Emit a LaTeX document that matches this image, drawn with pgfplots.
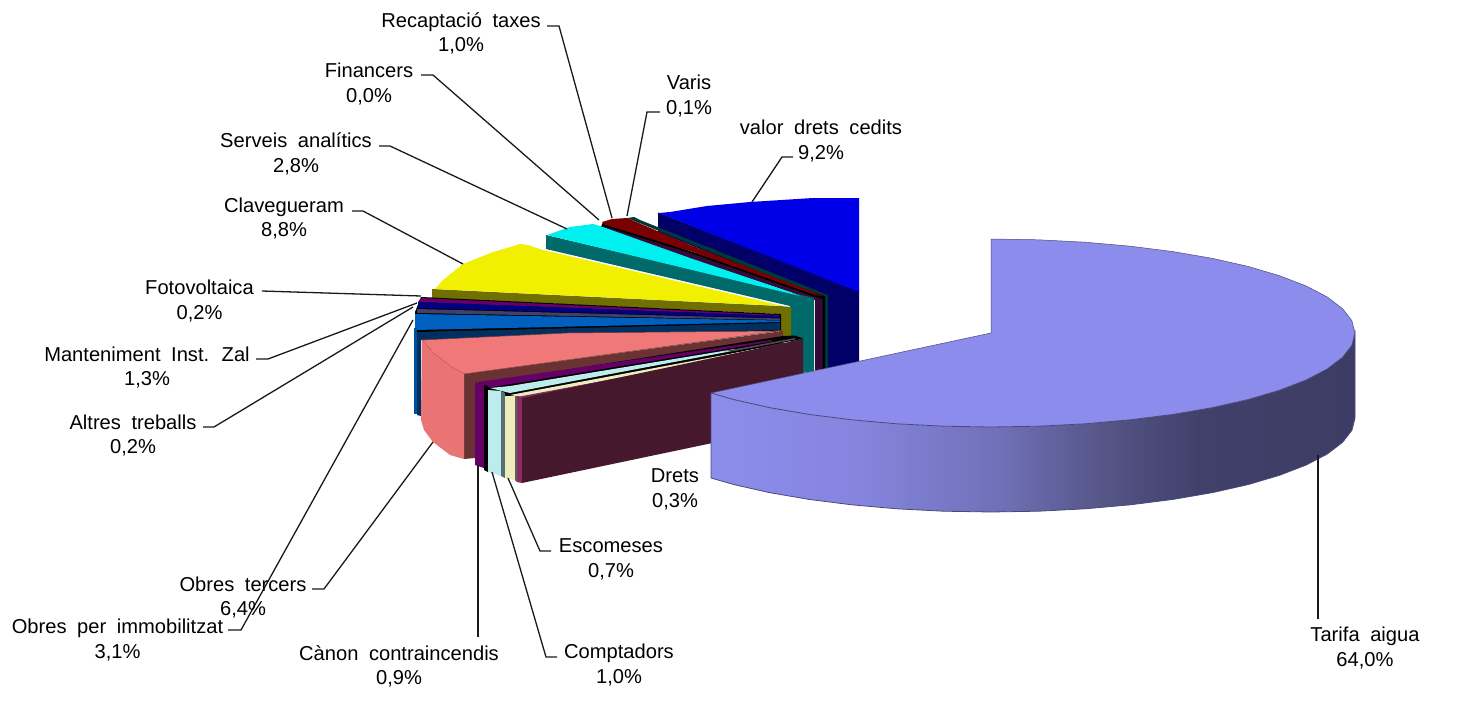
\documentclass[border=0pt]{standalone}
\usepackage{pgfplots}
\pgfplotsset{compat=1.18}
\usepackage{fontspec}
\setmainfont{Liberation Sans}
\definecolor{tarTop}{HTML}{8C8CEC}
\definecolor{tarEdge}{HTML}{4A4A7A}
\definecolor{bluT}{HTML}{0000E8}
\definecolor{bluS}{HTML}{000068}
\definecolor{grnS}{HTML}{003838}
\definecolor{redT}{HTML}{780000}
\definecolor{plumS}{HTML}{340A38}
\definecolor{cyaT}{HTML}{00F0F0}
\definecolor{cyaS}{HTML}{006A6A}
\definecolor{yelT}{HTML}{F0F000}
\definecolor{yelS}{HTML}{707000}
\definecolor{purp}{HTML}{660066}
\definecolor{nav}{HTML}{000080}
\definecolor{slat}{HTML}{40406A}
\definecolor{mblu}{HTML}{0060C0}
\definecolor{mbl2}{HTML}{0050A0}
\definecolor{mdrk}{HTML}{003060}
\definecolor{pnkT}{HTML}{F07878}
\definecolor{pnkS}{HTML}{E87474}
\definecolor{pnkE}{HTML}{703838}
\definecolor{brn}{HTML}{6A3232}
\definecolor{lcy}{HTML}{BCECEC}
\definecolor{gry}{HTML}{5A7070}
\definecolor{crm}{HTML}{ECECBC}
\definecolor{gr2}{HTML}{606058}
\definecolor{mag}{HTML}{8A2A60}
\definecolor{drk}{HTML}{46182E}
\definecolor{s0}{HTML}{8C8CEC}
\definecolor{s1}{HTML}{8686E0}
\definecolor{s2}{HTML}{7070B8}
\definecolor{s3}{HTML}{565688}
\definecolor{s4}{HTML}{40406A}
\definecolor{s5}{HTML}{3C3C64}
\pgfdeclarehorizontalshading{tarifa}{100bp}{color(0bp)=(s0);color(25bp)=(s0);color(35.8bp)=(s1);color(47.4bp)=(s2);color(55.2bp)=(s3);color(63bp)=(s4);color(75bp)=(s5);color(100bp)=(s5)}
\tikzset{lab/.style={align=center,anchor=center,inner sep=0pt,font=\fontsize{20.2}{24.6}\selectfont},
 lead/.style={black!90,line width=1.3pt}}
\newcommand{\ws}{\hspace{0.25em}}
\begin{document}
\begin{tikzpicture}
\path[use as bounding box] (0,0) rectangle (1461bp,716bp);
\begin{axis}[hide axis,scale only axis,width=1461bp,height=716bp,xmin=0,xmax=1461,ymin=0,ymax=716,y dir=reverse,clip=false,no markers]
% valor drets cedits
\addplot[fill=bluS,draw=none] coordinates {(658,212.5)(859,291)(859,362)(827,370)(827,300)(658,232)} -- cycle;
\addplot[fill=bluT,draw=none] coordinates {(659,213)(670,212)(707,206)(750,202)(813,198)(859,198)(859,292)} -- cycle;
% varis
\addplot[fill=grnS,draw=none] coordinates {(627,218)(634,217)(640,220)(828,295)(828,368)(824,369)(824,298)} -- cycle;
% recaptacio
\addplot[fill=black,draw=none] coordinates {(603,222)(825,296)(825,369)(815,370)(815,300)(600,229)} -- cycle;
\addplot[fill=plumS,draw=none] coordinates {(606,227)(690,253)(815,297)(822.5,299)(822.5,368.5)(815,370)(815,300)(690,258)(600,227)} -- cycle;
\addplot[fill=redT,draw=none] coordinates {(602,222)(612,219)(627,218)(690,245)(823,296)(815,295)(690,251)(606,225)} -- cycle;
% serveis analitics
\addplot[fill=cyaS,draw=none] coordinates {(546,235)(814,298)(814,371)(790,375)(790,306)(546,249)} -- cycle;
\addplot[fill=cyaT,draw=none] coordinates {(547,235)(570,227)(593,224)(600,226)(690,258)(787,291)(800,296)} -- cycle;
% clavegueram
\addplot[fill=yelS,draw=none] coordinates {(432,289)(780,306)(791,307)(791,340)(779,340)(779,314)(432,298)} -- cycle;
\addplot[fill=yelT,draw=none] coordinates {(435,289)(443,280)(463,264)(478,258)(493,252)(507,248)(520,244)(528,245)(543,250)(783,306)} -- cycle;
% fotovoltaica, altres, manteniment
\addplot[fill=black,draw=none] coordinates {(421,297)(781,314)(781,331)(420,340)(415,330)(415,312)} -- cycle;
\addplot[fill=purp,draw=none] coordinates {(421,298)(780,315)(780,316)(418,302)} -- cycle;
\addplot[fill=nav,draw=none] coordinates {(418,302)(780,316)(780,318)(418,308)} -- cycle;
\addplot[fill=slat,draw=none] coordinates {(417,309)(780,318.5)(780,320)(417,313)} -- cycle;
\addplot[fill=mblu,draw=none] coordinates {(415,314)(780,320.5)(780,322)(415,330)} -- cycle;
\addplot[fill=mdrk,draw=none] coordinates {(417,332)(780,323)(780,330)(420,340)} -- cycle;
\addplot[fill=mbl2,draw=none] coordinates {(414,328)(417,328)(417,414)(414,414)} -- cycle;
\addplot[fill=mdrk,draw=none] coordinates {(417,332)(421,332)(421,416)(417,415)} -- cycle;
% obres tercers
\addplot[fill=brn,draw=none] coordinates {(464,374)(783,331)(783,345)(475,385)(475,458)(464,459)} -- cycle;
\addplot[fill=pnkT,draw=pnkE,line width=0.5pt] coordinates {(422,340)(567,333)(773,331)(783,330.5)(464,374)(450,366)(433,353)} -- cycle;
\addplot[fill=pnkS,draw=none] coordinates {(422,340)(433,353)(450,366)(464,374)(464,459)(450,455)(433,442)(424,430)(421,420)} -- cycle;
% canon, comptadors, escomeses, drets
\addplot[fill=black,draw=none] coordinates {(475,384)(783,336)(795,335.5)(803,338.5)(522,398)(522,420)(475,420)} -- cycle;
\addplot[fill=purp,draw=none] coordinates {(478,382)(772,340)(772,341.5)(486,388)} -- cycle;
\addplot[fill=lcy,draw=none] coordinates {(490,388)(510,386)(735,349)(735,350.5)(510,393)} -- cycle;
\addplot[fill=gray!60!black,draw=none] coordinates {(725,351)(795,338)(795,339.5)(735,351)} -- cycle;
\addplot[fill=crm,draw=none] coordinates {(510,395)(740,352)(740,353.5)(522,397)} -- cycle;
\addplot[fill=purp,draw=none] coordinates {(475,382)(484,385)(484,468)(475,465)} -- cycle;
\addplot[fill=black,draw=none] coordinates {(484,385)(488,386)(488,472)(484,470)} -- cycle;
\addplot[fill=lcy,draw=none] coordinates {(488,390)(501,391)(501,476)(488,472)} -- cycle;
\addplot[fill=gry,draw=none] coordinates {(501,391)(505,393)(505,478)(501,476)} -- cycle;
\addplot[fill=crm,draw=none] coordinates {(505,396)(515,396)(515,480)(505,478)} -- cycle;
\addplot[fill=gr2,draw=none] coordinates {(515,396)(517,396)(517,482)(515,480)} -- cycle;
\addplot[fill=mag,draw=none] coordinates {(517,397)(667,369)(667,370)(522,398)(522,483)(517,482)} -- cycle;
\addplot[fill=drk,draw=none] coordinates {(522,398)(803,339)(803,424)(522,483)} -- cycle;
% tarifa aigua
\addplot[shading=tarifa,draw=none] coordinates {(711,393)(733.6,399.5)(769.4,407.6)(809,414.4)(851.7,419.8)(896.8,423.8)(943.5,426.2)(991,427)(1038.5,426.2)(1085.2,423.8)(1130.3,419.8)(1173,414.4)(1212.6,407.6)(1248.4,399.5)(1279.8,390.2)(1306.2,380)(1327.3,369)(1342.6,357.3)(1351.9,345.3)(1355,333)(1355,418)(1351.9,430.3)(1342.6,442.3)(1327.3,454)(1306.2,465)(1279.8,475.2)(1248.4,484.5)(1212.6,492.6)(1173,499.4)(1130.3,504.8)(1085.2,508.8)(1038.5,511.2)(991,512)(943.5,511.2)(896.8,508.8)(851.7,504.8)(809,499.4)(769.4,492.6)(733.6,484.5)(711,478)} -- cycle;
\addplot[fill=tarTop,draw=none] coordinates {(991,239)(1038.5,239.8)(1085.2,242.2)(1130.3,246.2)(1173,251.6)(1212.6,258.4)(1248.4,266.5)(1279.8,275.8)(1306.2,286)(1327.3,297)(1342.6,308.7)(1351.9,320.7)(1355,333)(1351.9,345.3)(1342.6,357.3)(1327.3,369)(1306.2,380)(1279.8,390.2)(1248.4,399.5)(1212.6,407.6)(1173,414.4)(1130.3,419.8)(1085.2,423.8)(1038.5,426.2)(991,427)(943.5,426.2)(896.8,423.8)(851.7,419.8)(809,414.4)(769.4,407.6)(733.6,399.5)(711,393)(991,333)} -- cycle;
\addplot[draw=tarEdge,line width=0.8pt] coordinates {(711,478)(711,393)(733.6,399.5)(769.4,407.6)(809,414.4)(851.7,419.8)(896.8,423.8)(943.5,426.2)(991,427)(1038.5,426.2)(1085.2,423.8)(1130.3,419.8)(1173,414.4)(1212.6,407.6)(1248.4,399.5)(1279.8,390.2)(1306.2,380)(1327.3,369)(1342.6,357.3)(1351.9,345.3)(1355,333)(1355,418)(1351.9,430.3)(1342.6,442.3)(1327.3,454)(1306.2,465)(1279.8,475.2)(1248.4,484.5)(1212.6,492.6)(1173,499.4)(1130.3,504.8)(1085.2,508.8)(1038.5,511.2)(991,512)(943.5,511.2)(896.8,508.8)(851.7,504.8)(809,499.4)(769.4,492.6)(733.6,484.5)(711,478)};
\addplot[draw=tarEdge,line width=0.5pt] coordinates {(1355,333)(1351.9,320.7)(1342.6,308.7)(1327.3,297)(1306.2,286)(1279.8,275.8)(1248.4,266.5)(1212.6,258.4)(1173,251.6)(1130.3,246.2)(1085.2,242.2)(1038.5,239.8)(991,239)(991,333)(711,393)};
% leaders
\addplot[lead] coordinates {(547,26)(559,26)(612,218)};
\addplot[lead] coordinates {(421,75)(433,75)(599,220)};
\addplot[lead] coordinates {(379,146)(390,146)(567,229)};
\addplot[lead] coordinates {(352,211)(363,211)(463,264)};
\addplot[lead] coordinates {(660,112)(647,112)(627,216)};
\addplot[lead] coordinates {(793,157)(782,157)(752,202)};
\addplot[lead] coordinates {(262,291)(421,296)};
\addplot[lead] coordinates {(256,359)(268,359)(417,303)};
\addplot[lead] coordinates {(203,427)(214,427)(413,307)};
\addplot[lead] coordinates {(228,630)(241,630)(413,320)};
\addplot[lead] coordinates {(312,589)(324,589)(433,442)};
\addplot[lead] coordinates {(478,465)(478,637)};
\addplot[lead] coordinates {(557,657)(546,657)(492,472)};
\addplot[lead] coordinates {(551,551)(540,551)(508,478)};
\addplot[lead] coordinates {(1318,455)(1318,619)};
% labels
\node[lab] at (axis cs:461,33.5) {Recaptació\ws{} taxes\\1,0\%};
\node[lab] at (axis cs:369,84) {Financers\\0,0\%};
\node[lab] at (axis cs:296,154) {Serveis\ws{} analítics\\2,8\%};
\node[lab] at (axis cs:284,218.5) {Clavegueram\\8,8\%};
\node[lab] at (axis cs:689,96) {Varis\\0,1\%};
\node[lab] at (axis cs:821,141) {valor\ws{} drets\ws{} cedits\\9,2\%};
\node[lab] at (axis cs:199.5,301) {Fotovoltaica\\0,2\%};
\node[lab] at (axis cs:147,367.5) {Manteniment\ws{} Inst.\ws{} Zal\\1,3\%};
\node[lab] at (axis cs:133,435.5) {Altres\ws{} treballs\\0,2\%};
\node[lab] at (axis cs:243,597.5) {Obres\ws{} tercers\\6,4\%};
\node[lab] at (axis cs:117.5,640) {Obres\ws{} per\ws{} immobilitzat\\3,1\%};
\node[lab] at (axis cs:399,666.5) {Cànon\ws{} contraincendis\\0,9\%};
\node[lab] at (axis cs:619,665) {Comptadors\\1,0\%};
\node[lab] at (axis cs:611,559.5) {Escomeses\\0,7\%};
\node[lab] at (axis cs:675,489.5) {Drets\\0,3\%};
\node[lab] at (axis cs:1365,648) {Tarifa\ws{} aigua\\64,0\%};
\end{axis}
\end{tikzpicture}
\end{document}
